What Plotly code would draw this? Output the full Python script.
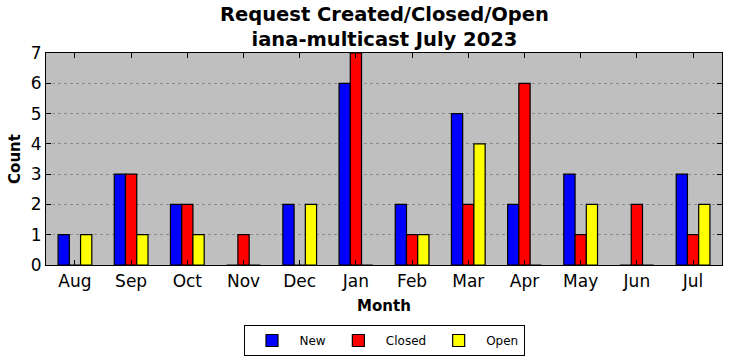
import plotly.graph_objects as go

months = ["Aug", "Sep", "Oct", "Nov", "Dec", "Jan", "Feb", "Mar", "Apr", "May", "Jun", "Jul"]
new_vals = [1, 3, 2, 0, 2, 6, 2, 5, 2, 3, 0, 3]
closed_vals = [0, 3, 2, 1, 0, 7, 1, 2, 6, 1, 2, 1]
open_vals = [1, 1, 1, 0, 2, 0, 1, 4, 0, 2, 0, 2]

series = [("New", new_vals, "#0000ff", -0.2),
          ("Closed", closed_vals, "#ff0000", 0.0),
          ("Open", open_vals, "#ffff00", 0.2)]

fig = go.Figure()
idx = list(range(len(months)))
for name, vals, color, off in series:
    fig.add_trace(go.Bar(
        x=[i + off for i in idx], y=vals, name=name, width=0.2,
        marker=dict(color=color, line=dict(color="black", width=1.2)),
    ))

font = "DejaVu Sans, Arial, sans-serif"
fig.add_annotation(
    text="<b>Request Created/Closed/Open<br>iana-multicast July 2023</b>",
    xref="paper", yref="paper", x=0.5, y=1, xanchor="center", yanchor="bottom",
    yshift=0, showarrow=False, font=dict(size=19.5, family=font, color="black"),
)
fig.update_layout(
    width=732, height=361,
    margin=dict(l=46, r=10, t=53, b=96, autoexpand=False),
    paper_bgcolor="white", plot_bgcolor="#bfbfbf",
    font=dict(family=font, color="black"),
    barmode="overlay",
    showlegend=True,
    legend=dict(orientation="h", x=384 / 732, xanchor="center", xref="container",
                y=1 - 325 / 361, yanchor="top", yref="container",
                bordercolor="black", borderwidth=1, font=dict(size=12),
                itemwidth=45, traceorder="normal"),
)
fig.update_xaxes(
    range=[-0.515, 11.515], tickvals=idx, ticktext=months,
    ticks="inside", ticklen=5, tickcolor="black", mirror="ticks",
    showline=True, linecolor="black", linewidth=1.2, showgrid=False, zeroline=False,
    tickfont=dict(size=17),
    title=dict(text="<b>Month</b>", font=dict(size=15), standoff=10),
)
fig.update_yaxes(
    range=[0, 7], dtick=1,
    ticks="inside", ticklen=5, tickcolor="black", mirror="ticks",
    showline=True, linecolor="black", linewidth=1.2,
    showgrid=True, gridcolor="#8c8c8c", griddash="dot", gridwidth=1, zeroline=False,
    tickfont=dict(size=17),
    title=dict(text="<b>Count</b>", font=dict(size=15), standoff=6),
)
fig.write_html("out.html")
